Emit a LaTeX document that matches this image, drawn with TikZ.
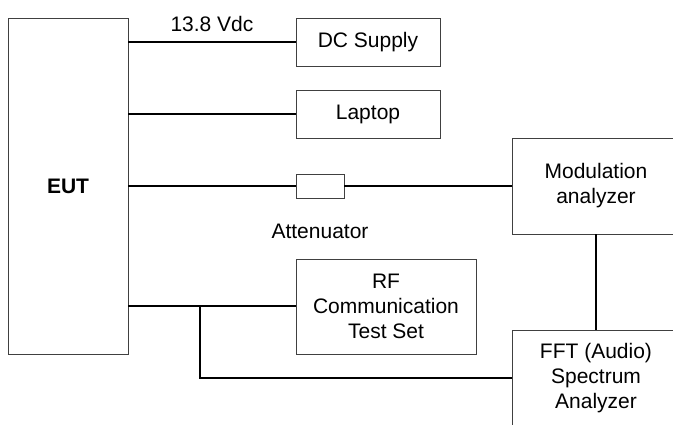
\documentclass[tikz,border=0pt]{standalone}
\usepackage{fontspec}
\setmainfont{Liberation Sans}
\usetikzlibrary{positioning}

\begin{document}
\begin{tikzpicture}[x=1pt,y=-1pt]
\tikzstyle{every node}+=[inner sep=0pt,font=\fontsize{21}{25}\selectfont]
\tikzstyle{unit}=[draw=black!75,line width=0.8pt,align=center]
\tikzstyle{wire}=[black,line width=1.5pt]
\useasboundingbox (0,0) rectangle (673,424);
\clip (0,0) rectangle (673,424);
\node [unit,minimum width=120pt,minimum height=336pt,font=\fontsize{21}{25}\selectfont\bfseries] (eut) at (68,186) {EUT};
\node [unit,minimum width=144pt,minimum height=48pt] (dc) at (368,42) {DC Supply};
\node [unit,minimum width=144pt,minimum height=48pt] (laptop) at (368,114) {Laptop};
\node [unit,minimum width=48pt,minimum height=24pt] (att) at (320,186) {};
\node (attlabel) at (320,231) {Attenuator};
\node [unit,minimum width=180pt,minimum height=95pt] (rf) at (386,306.5) {RF\\Communication\\Test Set};
\node [unit,minimum width=168pt,minimum height=96pt] (mod) at (596,186) {Modulation\\analyzer};
\node [unit,minimum width=168pt,minimum height=96pt] (fft) at (596,378) {FFT (Audio)\\Spectrum\\Analyzer};
\coordinate (tap) at (200,306);
\draw [wire] (eut.east |- dc) -- node [above=10pt] {13.8 Vdc} (dc.west);
\draw [wire] (eut.east |- laptop) -- (laptop.west);
\draw [wire] (eut.east |- att) -- (att.west);
\draw [wire] (att.east) -- (mod.west);
\draw [wire] (mod.south) -- (fft.north);
\draw [wire] (eut.east |- tap) -- (rf.west |- tap);
\draw [wire] (tap) |- (fft.west);
\end{tikzpicture}
\end{document}
